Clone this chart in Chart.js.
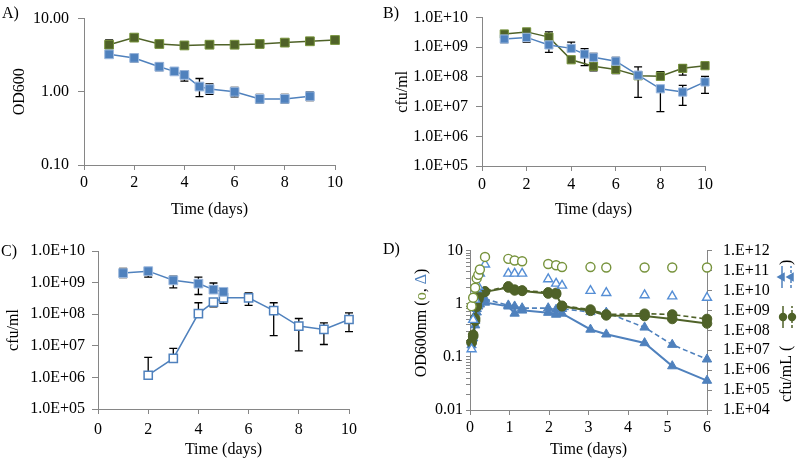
<!DOCTYPE html>
<html><head><meta charset="utf-8">
<script src="https://cdn.jsdelivr.net/npm/chart.js@4.4.1/dist/chart.umd.min.js"></script>
<style>
body{margin:0;background:#fff}
#wrap{position:relative;width:800px;height:460px;overflow:hidden;background:#fff}
canvas{position:absolute}
.lbl{position:absolute;font:16px "Liberation Serif","Times New Roman",serif;line-height:19px;color:#000}
</style></head><body>
<div id="wrap">
<canvas id="cA" width="400" height="230" style="left:0;top:0"></canvas>
<canvas id="cB" width="420" height="230" style="left:380px;top:0"></canvas>
<canvas id="cC" width="400" height="230" style="left:0;top:230px"></canvas>
<canvas id="cD" width="400" height="230" style="left:400px;top:230px"></canvas>
<div class="lbl" style="left:2px;top:3px">A)</div>
<div class="lbl" style="left:383px;top:3px">B)</div>
<div class="lbl" style="left:1px;top:241px">C)</div>
<div class="lbl" style="left:383px;top:239px">D)</div>
</div>
<script>
// ---------- DATA ----------
// Panel A: OD600
const xGreenA = [1,2,3,4,5,6,7,8,9,10];
const greenA = [4.4,5.5,4.5,4.3,4.4,4.4,4.5,4.7,4.9,5.1];
const greenA_hi = [5.1,null,null,null,null,null,null,null,null,null];
const greenA_lo = [3.9,null,null,null,null,null,null,null,null,null];
const xBlueA = [1,2,3,3.6,4,4.6,5,6,7,8,9];
const blueA = [3.25,2.9,2.2,1.9,1.7,1.18,1.09,1.0,0.8,0.8,0.87];
const blueA_hi = [3.5,3.26,2.5,null,1.95,1.52,1.28,1.15,0.92,0.92,1.0];
const blueA_lo = [3.0,2.54,1.95,null,1.4,0.86,0.92,0.85,0.70,0.70,0.76];
const yTicksA = [0.1,1,10];

// Panel B: cfu/ml
const xGreenB = [1,2,3,4,5,6,7,8,9,10];
const greenB = [2.8e9,3.3e9,2.2e9,3.8e8,2.3e8,1.8e8,1.1e8,1.05e8,1.95e8,2.4e8];
const greenB_hi = [null,null,3.3e9,null,null,null,null,1.5e8,2.6e8,null];
const greenB_lo = [null,null,null,null,null,1.3e8,null,8.3e7,1.15e8,null];
const xBlueB = [1,2,3,4,4.6,5,6,7,8,9,10];
const blueB = [1.9e9,2.15e9,1.2e9,9.2e8,5.9e8,4.6e8,3.4e8,1.15e8,4e7,3.1e7,6.8e7];
const blueB_hi = [2.4e9,2.8e9,null,1.5e9,9e8,6.2e8,4.6e8,2.2e8,null,5.2e7,1.05e8];
const blueB_lo = [1.45e9,1.5e9,6.7e8,null,2.4e8,1.6e8,2.2e8,2.05e7,6.8e6,1.1e7,2.8e7];
const yTicksCfu = [1e5,1e6,1e7,1e8,1e9,1e10];

// Panel C: cfu/ml, filled and open
const xFilledC = [1,2,3,4,4.6,5];
const filledC = [2.0e9,2.3e9,1.18e9,9.3e8,6e8,5.1e8];
const filledC_hi = [2.8e9,2.9e9,1.6e9,1.5e9,9.7e8,6.5e8];
const filledC_lo = [1.44e9,1.5e9,6.8e8,4.2e8,null,null];
const xOpenC = [2,3,4,4.6,5,6,7,8,9,10];
const openC = [1.17e6,4e6,1.05e8,2.4e8,3.3e8,3.3e8,1.3e8,4.2e7,3.3e7,6.8e7];
const openC_hi = [4.3e6,8.3e6,2.3e8,null,null,4.7e8,2.3e8,7.3e7,5.3e7,1.1e8];
const openC_lo = [null,null,null,1.7e8,2.2e8,1.9e8,2.1e7,6.9e6,1.1e7,2.8e7];

// Panel D
const tD = [0.04,0.08,0.13,0.17,0.21,0.25,0.38,0.97,1.13,1.32,1.98,2.18,2.33,3.05,3.45,4.42,5.12,6.0];
const odGreen = [0.9,1.3,2.0,3.0,3.5,4.4,7.6,7.0,6.5,6.3,5.6,5.3,4.9,4.9,4.8,4.8,4.8,4.8];
const odBlue = [0.14,0.5,1.2,1.9,2.1,3.7,5.5,3.7,3.7,3.7,2.9,2.4,2.2,1.75,1.6,1.45,1.38,1.3];
const cfuGreenSolid = [2.5e7,5e7,3e8,1.5e9,3.5e9,6e9,8.5e9,1.4e10,1.0e10,9.5e9,7e9,6.5e9,1.6e9,9.5e8,5.6e8,5.2e8,3.7e8,2.2e8];
const cfuGreenDashed = [2.5e7,6e7,4e8,2e9,4e9,6.5e9,9e9,1.6e10,1.1e10,1.0e10,8e9,7.5e9,1.7e9,1.1e9,6.2e8,6.8e8,6.2e8,3.7e8];
const cfuBlueSolid = [1.8e7,4e7,1.8e8,8e8,1.6e9,2e9,2.5e9,1.6e9,7e8,1.0e9,7.7e8,6.2e8,7e8,1.1e8,6.3e7,2.3e7,1.6e6,3e5];
const cfuBlueDashed = [2.5e7,6e7,3e8,1.2e9,2.2e9,3e9,3.7e9,1.8e9,1.6e9,1.3e9,1.3e9,1.1e9,1.2e9,8.3e8,7.8e8,1.4e8,1.9e7,3.5e6];
const yTicksDLeft = [0.01,0.1,1,10];
const yTicksDRight = [1e4,1e5,1e6,1e7,1e8,1e9,1e10,1e11,1e12];

// ---------- STYLE ----------
const FAM = '"Liberation Serif","Times New Roman",serif';
const FONT = {family: FAM, size: 16};
const AX = '#868686';
const GREEN = '#4F6228', GREEN_L = '#77933C';
const BLUE = '#4F81BD', BLUE_L = '#9DB9DE';

const pts = (xs, ys) => xs.map((x, i) => ({x, y: ys[i]}));
const isDecade = v => Math.abs(Math.log10(v) - Math.round(Math.log10(v))) < 1e-9;
const expFmt = (pre) => v => pre + String(Math.round(Math.log10(v))).padStart(2, '0');

const errorBars = {
  id: 'errorBars',
  beforeDatasetsDraw(chart) {
    const ctx = chart.ctx;
    chart.data.datasets.forEach((ds, i) => {
      if (!ds.errHigh && !ds.errLow) return;
      const meta = chart.getDatasetMeta(i);
      const ys = chart.scales[meta.yAxisID];
      ctx.save();
      ctx.strokeStyle = '#000';
      ctx.lineWidth = 1.3;
      meta.data.forEach((p, j) => {
        [ds.errHigh && ds.errHigh[j], ds.errLow && ds.errLow[j]].forEach(v => {
          if (v == null) return;
          const py = ys.getPixelForValue(v);
          ctx.beginPath();
          ctx.moveTo(p.x, p.y); ctx.lineTo(p.x, py);
          ctx.moveTo(p.x - 4, py); ctx.lineTo(p.x + 4, py);
          ctx.stroke();
        });
      });
      ctx.restore();
    });
  }
};

function xAxis(max, step, tl, pad, h, pb) {
  return {
    type: 'linear', position: 'bottom', min: 0, max: max,
    ticks: {stepSize: step, padding: pad, color: '#000', font: FONT, maxRotation: 0, autoSkip: false},
    grid: {drawOnChartArea: false, color: AX, tickLength: tl},
    border: {color: AX, width: 1},
    title: {display: true, text: 'Time (days)', color: '#000', font: FONT, padding: {top: 0, bottom: pb}},
    afterFit: s => { s.height = h; }
  };
}
function yLog(o) {
  return {
    type: 'logarithmic', position: o.position || 'left', min: o.min, max: o.max,
    afterBuildTicks: s => { s.ticks = o.ticks.map(v => ({value: v})); },
    ticks: {padding: o.pad, color: '#000', font: FONT, autoSkip: false, callback: o.fmt},
    grid: {drawOnChartArea: false, color: AX, tickLength: o.tl},
    border: {color: AX, width: 1},
    title: o.title ? {display: true, text: o.title, color: '#000', font: FONT, padding: {top: o.tpad, bottom: 0}} : {display: false},
    afterFit: s => { s.width = o.w; }
  };
}
function baseOpts(pad, scales, extra) {
  return Object.assign({
    responsive: false, animation: false, devicePixelRatio: 1, events: [],
    layout: {padding: pad},
    plugins: {legend: {display: false}, tooltip: {enabled: false}},
    scales: scales
  }, extra || {});
}
function squareSeries(data, color, opts) {
  return Object.assign({
    data, borderColor: color, borderWidth: 1.5, pointStyle: 'rect', pointRadius: 6.2,
    pointBackgroundColor: color, pointBorderColor: color === GREEN ? GREEN_L : BLUE_L, pointBorderWidth: 1,
    clip: false, tension: 0
  }, opts || {});
}

// Panel A
new Chart(document.getElementById('cA'), {
  type: 'line',
  data: {datasets: [
    squareSeries(pts(xBlueA, blueA), BLUE, {errHigh: blueA_hi, errLow: blueA_lo}),
    squareSeries(pts(xGreenA, greenA), GREEN, {errHigh: greenA_hi, errLow: greenA_lo})
  ]},
  options: baseOpts({left: 0, right: 65, top: 10, bottom: 0}, {
    x: xAxis(10, 2, 5, 3.4, 65, 10.4),
    y: yLog({min: 0.1, max: 10, ticks: yTicksA, fmt: v => v.toFixed(2), pad: 9, tl: 6, w: 84, title: 'OD600', tpad: 10.4})
  }),
  plugins: [errorBars]
});

// Panel B
new Chart(document.getElementById('cB'), {
  type: 'line',
  data: {datasets: [
    squareSeries(pts(xBlueB, blueB), BLUE, {errHigh: blueB_hi, errLow: blueB_lo, pointRadius: 5.8}),
    squareSeries(pts(xGreenB, greenB), GREEN, {errHigh: greenB_hi, errLow: greenB_lo, pointRadius: 5.8})
  ]},
  options: baseOpts({left: 0, right: 95, top: 10, bottom: 0}, {
    x: xAxis(10, 2, 5, 4.4, 64, 10.4),
    y: yLog({min: 1e5, max: 1e10, ticks: yTicksCfu, fmt: expFmt('1.0E+'), pad: 8, tl: 6, w: 102, title: 'cfu/ml', tpad: 13.4})
  }),
  plugins: [errorBars]
});

// Panel C
new Chart(document.getElementById('cC'), {
  type: 'line',
  data: {datasets: [
    squareSeries(pts(xFilledC, filledC), BLUE, {errHigh: filledC_hi, errLow: filledC_lo}),
    squareSeries(pts(xOpenC, openC), BLUE, {errHigh: openC_hi, errLow: openC_lo,
      pointBackgroundColor: '#fff', pointBorderColor: BLUE, pointBorderWidth: 1.5, pointRadius: 5.8})
  ]},
  options: baseOpts({left: 0, right: 51, top: 21, bottom: 0}, {
    x: xAxis(10, 2, 5, 6.4, 51, 0.4),
    y: yLog({min: 1e5, max: 1e10, ticks: yTicksCfu, fmt: expFmt('1.0E+'), pad: 7, tl: 6, w: 98, title: 'cfu/ml', tpad: 4.4})
  }),
  plugins: [errorBars]
});

// Panel D
function drawMarker(ctx, style, x, y, r, fill, stroke) {
  ctx.beginPath();
  if (style === 'circle') {
    ctx.arc(x, y, r, 0, Math.PI * 2);
  } else {
    ctx.moveTo(x, y - r);
    ctx.lineTo(x + r * 0.866, y + r * 0.5);
    ctx.lineTo(x - r * 0.866, y + r * 0.5);
    ctx.closePath();
  }
  ctx.fillStyle = fill; ctx.fill();
  if (stroke) { ctx.strokeStyle = stroke; ctx.lineWidth = 1; ctx.stroke(); }
}
const titlesD = {
  id: 'titlesD',
  afterDraw(chart) {
    const ctx = chart.ctx;
    ctx.save();
    ctx.font = '16px ' + FAM;
    ctx.textBaseline = 'middle';
    ctx.textAlign = 'left';
    const parts = [['OD600nm (', '#000'], ['o', GREEN_L], [', ', '#000'], ['\u0394', BLUE], [')', '#000']];
    const total = parts.reduce((s, p) => s + ctx.measureText(p[0]).width, 0);
    ctx.translate(22, 93);
    ctx.rotate(-Math.PI / 2);
    let x = -total / 2;
    parts.forEach(p => { ctx.fillStyle = p[1]; ctx.fillText(p[0], x, 0); x += ctx.measureText(p[0]).width; });
    ctx.restore();

    ctx.save();
    ctx.font = '16px ' + FAM;
    ctx.textBaseline = 'middle';
    ctx.textAlign = 'left';
    ctx.translate(387, 172);
    ctx.rotate(-Math.PI / 2);
    ctx.fillStyle = '#000';
    ctx.fillText('cfu/mL (', 0, 0);
    const key = (s, off, color, style, dashed) => {
      ctx.save();
      ctx.strokeStyle = color; ctx.lineWidth = 1.5;
      ctx.setLineDash(dashed ? [3, 2] : []);
      ctx.beginPath(); ctx.moveTo(s - 11, off); ctx.lineTo(s + 11, off); ctx.stroke();
      ctx.setLineDash([]);
      drawMarker(ctx, style, s, off, style === 'circle' ? 4.2 : 5.5, color, null);
      ctx.restore();
    };
    key(85, -4, GREEN, 'circle', false);
    key(85, 5, GREEN, 'circle', true);
    key(125, -5, BLUE, 'triangle', false);
    key(125, 4, BLUE, 'triangle', true);
    ctx.fillStyle = '#000';
    ctx.fillText(')', 137, 0);
    ctx.restore();
  }
};

function markerSeries(ys, axis, style, color, opts) {
  return Object.assign({
    data: pts(tD, ys), yAxisID: axis, borderColor: color, borderWidth: 2,
    pointStyle: style, pointRadius: style === 'circle' ? 4.8 : 5.4,
    pointBackgroundColor: color, pointBorderColor: color, pointBorderWidth: 1,
    clip: false, tension: 0
  }, opts || {});
}
new Chart(document.getElementById('cD'), {
  type: 'line',
  data: {datasets: [
    markerSeries(odGreen, 'y', 'circle', GREEN_L, {showLine: false, pointBackgroundColor: '#fff', pointBorderWidth: 1.4, pointRadius: 4.5}),
    markerSeries(odBlue, 'y', 'triangle', BLUE, {showLine: false, pointBackgroundColor: '#fff', pointBorderWidth: 1.4, pointBorderColor: '#558ED5', pointRadius: 5.2}),
    markerSeries(cfuGreenSolid, 'y2', 'circle', GREEN),
    markerSeries(cfuGreenDashed, 'y2', 'circle', GREEN, {borderDash: [5, 3], borderWidth: 1.6}),
    markerSeries(cfuBlueSolid, 'y2', 'triangle', BLUE),
    markerSeries(cfuBlueDashed, 'y2', 'triangle', BLUE, {borderDash: [5, 3], borderWidth: 1.6})
  ]},
  options: baseOpts({left: 0, right: 0, top: 17, bottom: 0}, {
    x: xAxis(6, 1, 5, 3.4, 50, 0.4),
    y: (() => {
      const minor = [];
      yTicksDLeft.forEach((d, i) => {
        if (i < yTicksDLeft.length - 1) { for (let k = 1; k < 10; k++) minor.push(d * k); } else minor.push(d);
      });
      return yLog({min: 0.01, max: 10, ticks: minor,
        fmt: v => isDecade(v) ? String(Math.round(v * 100) / 100) : '', pad: 3, tl: 4, w: 70});
    })(),
    y2: yLog({position: 'right', min: 1e4, max: 1e12, ticks: yTicksDRight, fmt: expFmt('1.E+'), pad: 11, tl: 5, w: 93})
  }),
  plugins: [titlesD]
});
</script>
</body></html>
